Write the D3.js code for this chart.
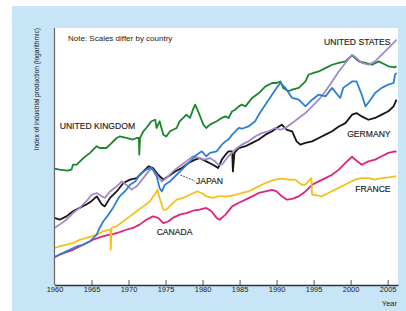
<!DOCTYPE html>
<html>
<head>
<meta charset="utf-8">
<script src="https://cdn.jsdelivr.net/npm/d3@7"></script>
<style>
  html, body { margin: 0; padding: 0; background: #fff; }
  svg { display: block; }
  .country { font-family: "Liberation Sans", Arial, sans-serif; font-size: 8.6px; fill: #222; stroke: #222; stroke-width: 0.15px; }
  .small { font-family: "Liberation Sans", Arial, sans-serif; font-size: 7.5px; fill: #222; }
</style>
</head>
<body>
<svg id="chart" width="406" height="311"></svg>
<script>
// industrial production, log index (0-100 = bottom..top of plot)
const ukData = [[1960.0,45.3],[1960.7,44.9],[1961.8,44.5],[1962.3,44.9],[1962.5,46.8],[1963.0,46.8],[1963.9,49.4],[1964.8,51.4],[1965.0,52.0],[1965.7,54.0],[1966.1,53.3],[1967.0,53.3],[1967.5,54.6],[1968.4,57.2],[1968.8,57.8],[1969.7,57.2],[1970.6,56.6],[1971.1,57.2],[1971.4,57.2],[1971.45,50.7],[1971.55,57.2],[1972.0,59.8],[1972.4,61.1],[1972.9,63.0],[1973.1,63.7],[1973.6,64.3],[1973.8,61.1],[1974.2,63.7],[1974.7,58.5],[1975.1,57.8],[1975.6,59.8],[1976.5,61.1],[1976.9,63.7],[1977.4,65.0],[1977.8,66.3],[1978.3,65.0],[1978.7,68.2],[1979.0,70.2],[1979.4,67.6],[1980.1,62.4],[1980.5,61.1],[1981.0,62.4],[1981.9,63.7],[1982.6,65.0],[1983.1,65.6],[1983.5,65.0],[1984.0,67.6],[1984.4,68.2],[1984.9,69.5],[1985.3,70.2],[1985.8,69.5],[1986.7,72.8],[1987.6,74.7],[1988.5,77.3],[1989.4,78.6],[1990.0,78.6],[1990.5,79.2],[1990.9,76.7],[1991.6,75.4],[1992.1,76.0],[1993.0,76.7],[1993.9,79.2],[1994.3,81.8],[1995.0,82.5],[1995.7,83.1],[1996.6,84.4],[1997.5,85.7],[1998.4,86.4],[1999.3,87.0],[2000.2,89.4],[2000.6,88.3],[2001.1,87.0],[2002.0,86.4],[2002.9,85.7],[2003.8,87.0],[2004.7,85.7],[2005.1,85.1],[2006.0,84.7],[2006.2,85.1]];

const japanData = [[1960.0,10.9],[1961.6,13.1],[1963.0,15.0],[1963.9,15.7],[1964.8,17.0],[1965.7,19.6],[1966.1,22.2],[1966.6,24.8],[1967.3,27.4],[1967.9,30.0],[1968.4,32.6],[1968.8,34.5],[1969.5,36.4],[1970.2,39.0],[1970.9,40.3],[1971.5,42.9],[1972.4,44.9],[1972.9,45.5],[1973.3,44.9],[1973.8,42.3],[1974.2,37.7],[1974.5,36.4],[1974.9,39.0],[1975.6,40.3],[1976.5,42.9],[1977.4,45.5],[1978.3,48.1],[1979.2,50.7],[1979.9,52.0],[1980.5,50.1],[1981.0,51.4],[1981.9,52.0],[1982.6,54.6],[1983.1,55.9],[1983.5,56.6],[1984.0,58.5],[1984.9,61.1],[1985.3,60.8],[1986.2,61.7],[1987.1,63.7],[1987.6,66.3],[1988.5,70.2],[1989.4,74.1],[1990.0,76.7],[1990.5,78.6],[1991.2,76.7],[1992.1,72.8],[1993.0,72.1],[1993.9,69.5],[1994.8,72.1],[1995.7,74.1],[1996.6,73.4],[1997.5,76.7],[1998.2,74.1],[1998.6,72.8],[1999.0,76.7],[2000.2,79.2],[2000.8,79.2],[2001.5,74.1],[2002.0,69.5],[2002.7,72.1],[2003.3,74.7],[2004.2,76.7],[2005.1,78.0],[2005.8,78.6],[2006.0,81.8],[2006.2,82.5]];

const usData = [[1960.0,22.2],[1960.7,23.5],[1961.6,25.4],[1962.5,28.0],[1963.4,30.0],[1964.3,32.6],[1965.0,35.1],[1965.7,35.8],[1966.4,34.5],[1966.8,33.9],[1967.5,36.4],[1968.4,38.4],[1969.1,40.3],[1969.7,39.0],[1970.4,37.1],[1971.1,38.4],[1972.0,41.6],[1972.7,44.2],[1973.1,45.5],[1973.8,42.9],[1974.5,40.3],[1975.1,41.6],[1976.0,44.2],[1976.9,46.2],[1977.8,48.1],[1978.7,50.1],[1979.6,49.4],[1980.3,48.8],[1981.0,49.4],[1981.7,48.1],[1982.1,46.8],[1982.6,46.8],[1983.5,50.1],[1984.4,52.7],[1985.3,54.6],[1986.2,55.9],[1987.1,57.8],[1988.0,59.1],[1988.9,59.8],[1989.8,61.1],[1990.5,60.4],[1991.2,61.1],[1992.1,63.0],[1993.0,65.0],[1993.9,66.9],[1994.8,69.5],[1995.7,72.1],[1996.6,75.4],[1997.5,79.2],[1998.4,83.1],[1999.3,86.4],[2000.2,89.6],[2000.8,88.3],[2001.5,86.4],[2002.4,85.7],[2003.3,87.0],[2004.2,89.6],[2005.1,92.2],[2006.0,94.8],[2006.2,95.5]];

const germanyData = [[1960.0,26.1],[1960.7,25.4],[1961.6,26.7],[1962.5,28.7],[1963.4,30.0],[1964.3,31.3],[1965.0,32.6],[1965.7,34.5],[1966.4,31.3],[1966.8,30.6],[1967.5,33.9],[1968.4,36.4],[1969.3,39.7],[1970.2,41.0],[1971.1,41.6],[1972.0,44.2],[1972.7,46.2],[1973.3,45.5],[1974.0,42.9],[1974.7,41.0],[1975.4,42.3],[1976.3,44.2],[1977.2,45.5],[1978.1,47.5],[1979.0,48.8],[1979.6,49.4],[1980.5,48.1],[1981.4,46.8],[1982.1,45.5],[1982.6,48.8],[1983.1,50.7],[1983.5,52.0],[1984.0,52.0],[1984.1,44.2],[1984.3,51.4],[1984.9,53.3],[1985.8,54.0],[1986.7,55.3],[1987.6,56.6],[1988.5,58.5],[1989.4,59.8],[1990.0,61.1],[1990.7,62.4],[1991.4,60.4],[1992.1,59.8],[1992.7,55.9],[1993.2,54.6],[1993.9,55.3],[1994.8,55.9],[1995.7,57.2],[1996.6,58.5],[1997.5,59.8],[1998.4,61.7],[1999.3,63.0],[2000.2,66.3],[2000.8,66.9],[2001.5,65.6],[2002.4,64.3],[2003.3,65.0],[2004.2,66.3],[2005.1,67.6],[2005.8,69.5],[2006.2,72.1]];

const franceData = [[1960.0,14.4],[1960.7,15.0],[1961.6,15.7],[1962.5,16.3],[1963.4,17.6],[1964.3,18.3],[1965.0,18.9],[1965.7,19.6],[1966.6,20.9],[1967.3,21.5],[1967.55,21.5],[1967.6,13.7],[1967.7,22.2],[1968.4,22.8],[1969.3,24.8],[1970.2,26.7],[1971.1,28.7],[1972.0,30.6],[1972.9,32.6],[1973.8,36.4],[1973.9,37.1],[1974.2,33.9],[1974.7,29.3],[1975.1,29.3],[1975.8,31.3],[1976.5,33.2],[1977.4,33.9],[1978.3,35.1],[1979.2,36.4],[1979.9,35.8],[1980.5,34.5],[1981.4,33.9],[1982.1,34.5],[1982.6,34.5],[1983.5,34.5],[1984.4,35.1],[1985.3,35.8],[1986.2,36.4],[1987.1,37.7],[1988.0,39.0],[1988.9,40.1],[1989.8,41.0],[1990.7,41.4],[1991.6,41.0],[1992.5,41.0],[1993.4,39.0],[1993.9,39.0],[1994.3,40.3],[1994.7,41.6],[1994.8,35.1],[1995.2,35.1],[1996.1,34.5],[1997.0,35.8],[1997.9,37.1],[1998.8,38.4],[1999.7,39.7],[2000.6,41.0],[2001.5,41.6],[2002.4,41.6],[2003.3,41.0],[2004.2,41.6],[2005.1,41.9],[2006.0,42.3],[2006.2,42.3]];

const canadaData = [[1960.0,10.8],[1960.7,11.8],[1961.6,12.8],[1962.5,13.7],[1963.4,15.0],[1964.3,16.3],[1965.2,17.6],[1966.1,18.5],[1967.0,19.3],[1967.9,19.8],[1968.8,20.6],[1969.7,21.5],[1970.6,22.2],[1971.5,23.5],[1972.4,25.4],[1973.3,26.7],[1974.0,26.1],[1974.7,24.1],[1975.4,24.8],[1976.0,26.1],[1976.9,27.4],[1977.8,28.0],[1978.7,28.9],[1979.6,29.3],[1980.5,30.0],[1981.2,28.7],[1981.9,26.1],[1982.3,25.4],[1983.1,27.4],[1984.0,30.6],[1984.9,32.0],[1985.8,33.2],[1986.7,34.5],[1987.6,35.8],[1988.5,36.4],[1989.4,37.0],[1990.0,36.4],[1990.7,34.5],[1991.4,33.2],[1992.1,33.5],[1993.0,34.5],[1993.9,36.4],[1994.8,39.0],[1995.7,40.3],[1996.6,41.6],[1997.5,42.9],[1998.4,44.9],[1999.3,47.5],[2000.2,49.9],[2000.6,48.8],[2001.5,46.8],[2002.4,48.1],[2003.3,48.8],[2004.2,50.1],[2005.1,51.4],[2006.0,52.0],[2006.2,51.8]];

const tickYears = [1960, 1965, 1970, 1975, 1980, 1985, 1990, 1995, 2000, 2005];

const series = [
  { name: 'UNITED KINGDOM', data: ukData, color: '#1c852b' },
  { name: 'CANADA', data: canadaData, color: '#e0237e' },
  { name: 'FRANCE', data: franceData, color: '#f5c01c' },
  { name: 'GERMANY', data: germanyData, color: '#151515' },
  { name: 'UNITED STATES', data: usData, color: '#a489c8' },
  { name: 'JAPAN', data: japanData, color: '#2b80d2' }
];

// label anchors in data units [year, value]
const labels = [
  { text: 'UNITED STATES', at: [2005.4, 93.4], anchor: 'end' },
  { text: 'UNITED KINGDOM', at: [1960.7, 60.6], anchor: 'start' },
  { text: 'GERMANY', at: [2005.4, 57.5], anchor: 'end' },
  { text: 'JAPAN', at: [1979.1, 39.3], anchor: 'start' },
  { text: 'FRANCE', at: [2005.4, 36.2], anchor: 'end' },
  { text: 'CANADA', at: [1973.8, 19.6], anchor: 'start' }
];
const japanLeader = [[1977.0, 42.8], [1979.0, 40.5]];

const W = 406, H = 311;
const plot = { left: 54.5, right: 398, top: 28, bottom: 285 };

const svg = d3.select('#chart');

svg.append('rect').attr('x', 12).attr('y', 6).attr('width', W - 12).attr('height', H - 6).attr('fill', '#c8e4f7');
svg.append('rect').attr('x', plot.left).attr('y', plot.top)
  .attr('width', plot.right - plot.left).attr('height', plot.bottom - plot.top).attr('fill', '#fff');

const x = d3.scaleLinear().domain([1960, 2006.4]).range([plot.left, plot.right]);
const y = d3.scaleLinear().domain([0, 100]).range([plot.bottom, plot.top]);

const line = d3.line().x(d => x(d[0])).y(d => y(d[1]));

svg.append('g').selectAll('path').data(series).join('path')
  .attr('d', d => line(d.data))
  .attr('fill', 'none')
  .attr('stroke', d => d.color)
  .attr('stroke-width', 1.8)
  .attr('stroke-linejoin', 'round');

// axes
svg.append('line').attr('x1', plot.left).attr('x2', plot.left).attr('y1', plot.top).attr('y2', plot.bottom)
  .attr('stroke', '#666').attr('stroke-width', 1.2);

const xAxis = d3.axisBottom(x).tickValues(tickYears).tickSize(0).tickPadding(4).tickFormat(d3.format('d'));
const gx = svg.append('g').attr('transform', `translate(0,${plot.bottom})`).call(xAxis);
gx.select('.domain').attr('stroke', '#333').attr('stroke-width', 1.5);
gx.selectAll('text').attr('class', 'small').attr('font-family', null).attr('font-size', null).attr('dy', '0.45em');
gx.selectAll('.tick').filter(d => d > 1960).append('line')
  .attr('y1', -5).attr('y2', 0).attr('stroke', '#555').attr('stroke-width', 1);

svg.append('text').attr('class', 'small').attr('x', 397).attr('y', 306).attr('text-anchor', 'end').text('Year');

svg.append('text').attr('class', 'small')
  .attr('transform', `translate(39,${plot.top}) rotate(-90)`)
  .attr('text-anchor', 'end')
  .style('font-size', '6.6px')
  .text('Index of industrial production (logarithmic)');

svg.append('text').attr('class', 'small').attr('x', 68).attr('y', 41)
  .style('font-size', '8px').text('Note: Scales differ by country');

// country labels
svg.append('g').selectAll('text').data(labels).join('text')
  .attr('class', 'country')
  .attr('x', d => x(d.at[0])).attr('y', d => y(d.at[1]))
  .attr('text-anchor', d => d.anchor)
  .text(d => d.text);

svg.append('path').attr('d', line(japanLeader)).attr('stroke', '#333').attr('stroke-width', 0.8)
  .attr('stroke-dasharray', '2,1').attr('fill', 'none');
</script>
</body>
</html>
